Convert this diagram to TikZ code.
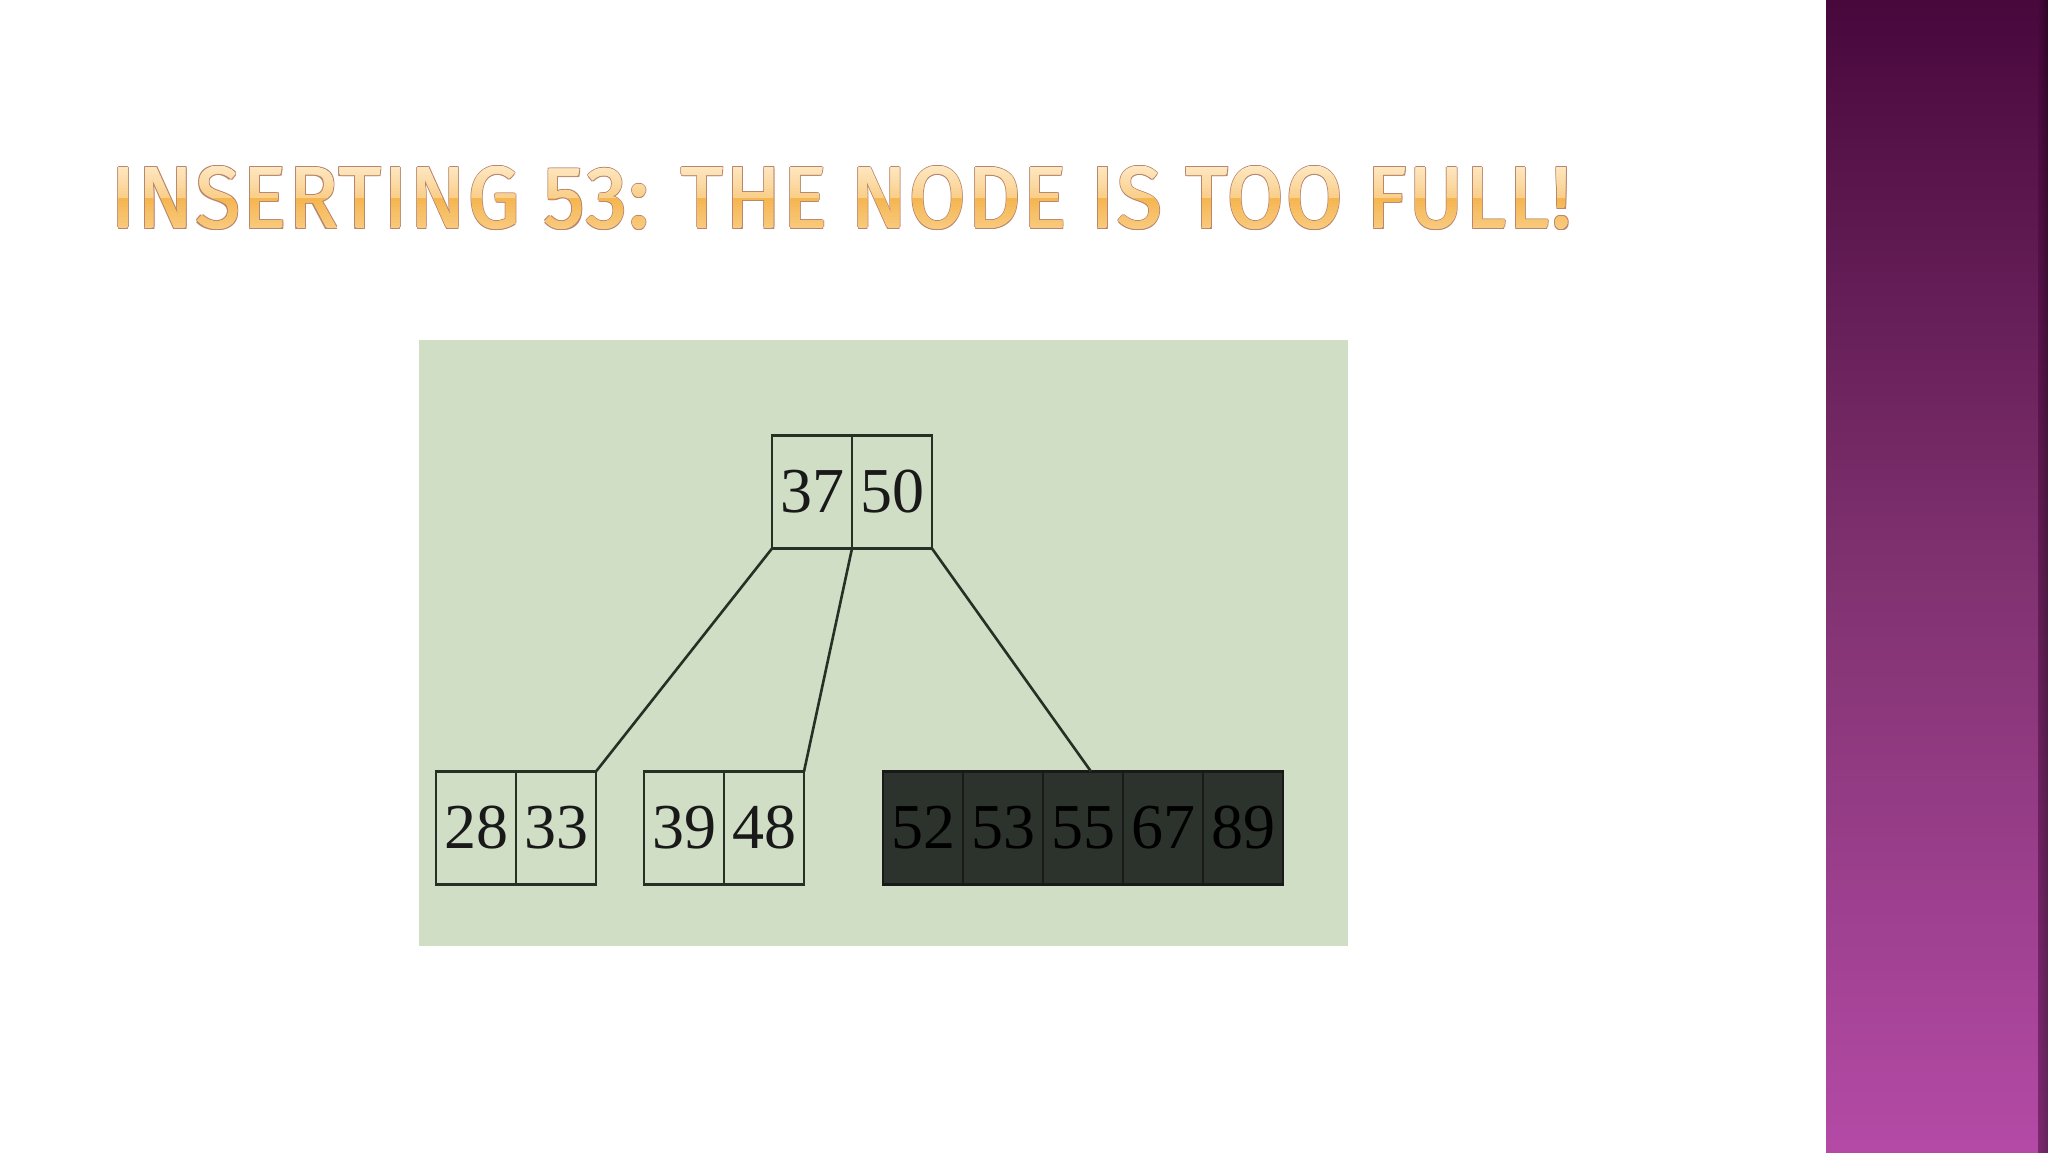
\documentclass[tikz,border=0pt]{standalone}
\usepackage{fontspec}
\setmainfont{Liberation Serif}
\newfontfamily\titlefont[LetterSpace=3]{Fira Sans}
\usetikzlibrary{calc}
\definecolor{panelgreen}{RGB}{207,222,197}
\definecolor{boxline}{RGB}{38,48,36}
\definecolor{darkfill}{RGB}{44,51,44}
\definecolor{purpletop}{RGB}{72,8,60}
\definecolor{purplemid}{RGB}{128,50,112}
\definecolor{purplebot}{RGB}{180,74,166}
\definecolor{oA}{RGB}{254,236,205}
\definecolor{oB}{RGB}{250,208,140}
\definecolor{oC}{RGB}{245,182,80}
\definecolor{oD}{RGB}{250,206,135}
\definecolor{titleedge}{RGB}{185,135,110}
\newcommand{\titletext}{\resizebox{1459pt}{61pt}{\titlefont\mdseries INSERTING 53: THE NODE IS TOO FULL!}}
\tikzset{
  cell/.style={draw=boxline, line width=2.6pt, minimum width=80pt, minimum height=113pt, inner sep=0pt, outer sep=0pt, font=\fontsize{64}{64}\selectfont, text=black!90},
  darkcell/.style={cell, draw=black!90, fill=darkfill, text=black},
  link/.style={draw=boxline, line width=2.6pt},
  titlenode/.style={inner sep=0pt, outer sep=0pt}
}
\begin{document}
\begin{tikzpicture}[x=1pt,y=-1pt]
\useasboundingbox (0,0) rectangle (2048,1152);
\fill[white] (0,0) rectangle (2048,1152);
% purple band
\shade[top color=purpletop, bottom color=purplebot, middle color=purplemid] (1826,0) rectangle (2048,1152);
\shade[left color=purplemid!0!purpletop, right color=black!70!purpletop, opacity=0.5] (2038,0) rectangle (2048,1152);
% title outline
\foreach \dx/\dy in {1.7/0,-1.7/0,0/1.7,0/-1.7,1.2/1.2,-1.2/1.2,1.2/-1.2,-1.2/-1.2}
  \node[titlenode, text=titleedge] at (841.5+\dx,198+\dy) {\titletext};
% inner fattening with fill colour
\foreach \dx/\dy in {0.7/0,-0.7/0,0/0.7,0/-0.7}
  \node[titlenode, text=oB] at (841.5+\dx,198+\dy) {\titletext};
% title gradient fill by strips
\foreach \i in {0,...,11} {
  \pgfmathsetmacro{\pa}{100-\i*100/11}
  \pgfmathsetmacro{\ya}{160+\i*38/12}
  \pgfmathsetmacro{\yb}{160+(\i+1)*38/12+0.3}
  \colorlet{cc}{oA!\pa!oB}
  \begin{scope}
    \clip (100,\ya) rectangle (1600,\yb);
    \foreach \dx/\dy in {0/0,0.7/0,-0.7/0,0/0.7,0/-0.7}
      \node[titlenode, text=cc] at (841.5+\dx,198+\dy) {\titletext};
  \end{scope}
}
\foreach \i in {0,...,11} {
  \pgfmathsetmacro{\pa}{100-\i*100/11}
  \pgfmathsetmacro{\ya}{198+\i*38/12}
  \pgfmathsetmacro{\yb}{198+(\i+1)*38/12+0.3}
  \colorlet{cc}{oC!\pa!oD}
  \begin{scope}
    \clip (100,\ya) rectangle (1600,\yb);
    \foreach \dx/\dy in {0/0,0.7/0,-0.7/0,0/0.7,0/-0.7}
      \node[titlenode, text=cc] at (841.5+\dx,198+\dy) {\titletext};
  \end{scope}
}
% panel
\fill[panelgreen] (419,340) rectangle (1348,946);
% root
\node[cell] (r1) at (812,492) {37};
\node[cell, anchor=west] (r2) at (r1.east) {50};
% leaves
\node[cell] (a1) at (476,828) {28};
\node[cell, anchor=west] (a2) at (a1.east) {33};
\node[cell] (b1) at (684,828) {39};
\node[cell, anchor=west] (b2) at (b1.east) {48};
\node[darkcell] (d1) at (923,828) {52};
\node[darkcell, anchor=west] (d2) at (d1.east) {53};
\node[darkcell, anchor=west] (d3) at (d2.east) {55};
\node[darkcell, anchor=west] (d4) at (d3.east) {67};
\node[darkcell, anchor=west] (d5) at (d4.east) {89};
% links
\draw[link] (r1.south west) -- (a2.north east);
\draw[link] (r1.south east) -- (b2.north east);
\draw[link] (r2.south east) -- ($(d3.north)+(8,0)$);
\end{tikzpicture}
\end{document}
